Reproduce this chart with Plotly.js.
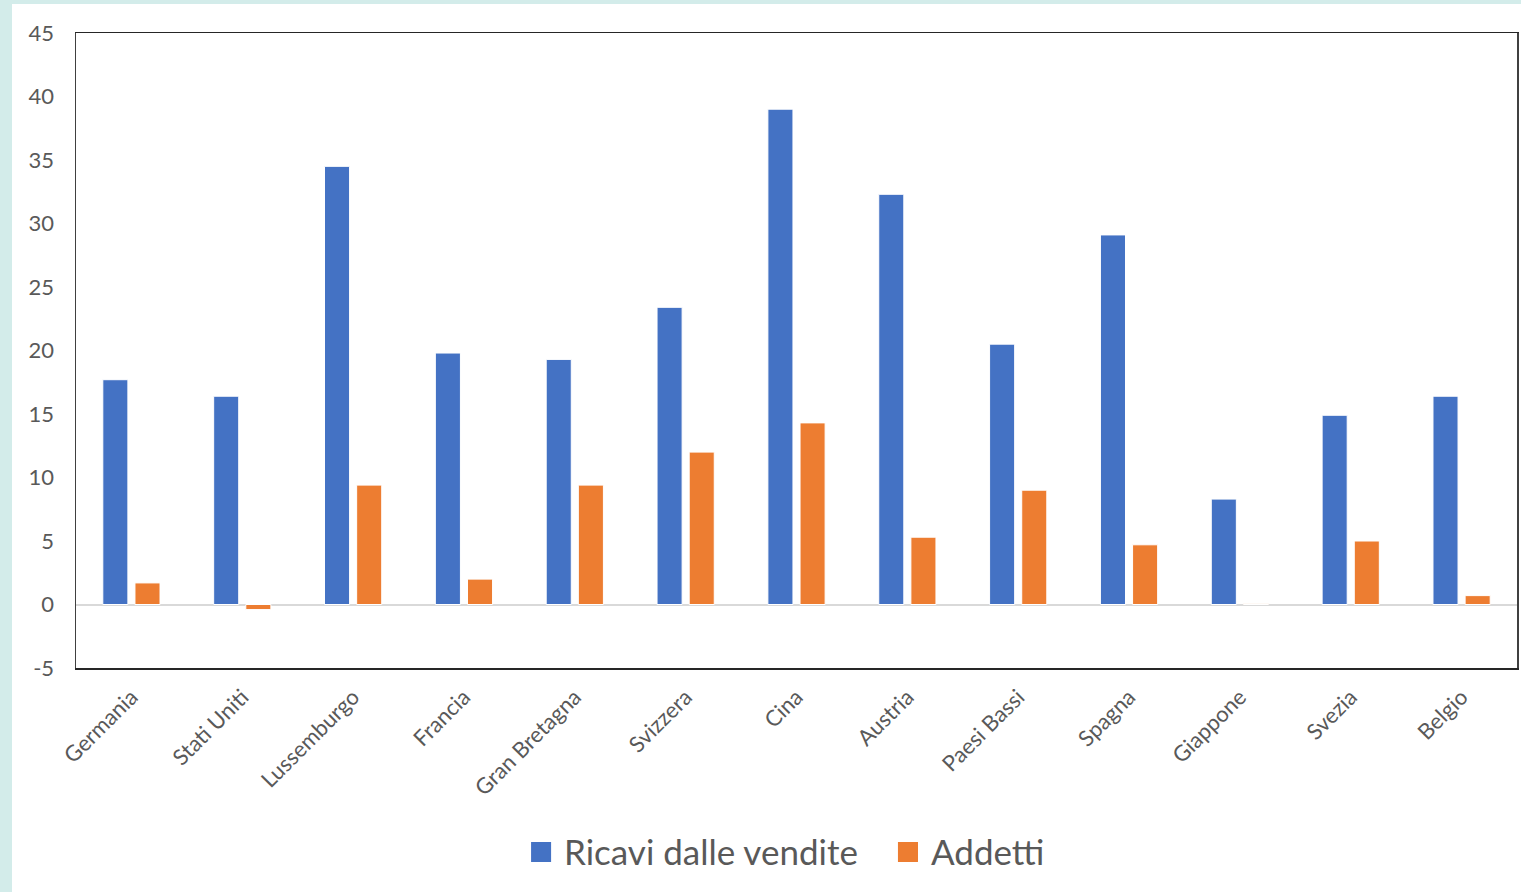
<!DOCTYPE html>
<html>
<head>
<meta charset="utf-8">
<script src="https://cdn.plot.ly/plotly-3.0.1.min.js"></script>
<style>
html,body{margin:0;padding:0;background:#d3ecea;width:1521px;height:892px;overflow:hidden;}
#chart{position:absolute;left:12px;top:4px;width:1509px;height:888px;background:#fff;}
</style>
</head>
<body>
<div id="chart"></div>
<script>
const categories = ["Germania","Stati Uniti","Lussemburgo","Francia","Gran Bretagna","Svizzera","Cina","Austria","Paesi Bassi","Spagna","Giappone","Svezia","Belgio"];
const ricavi = [17.7, 16.4, 34.5, 19.8, 19.3, 23.4, 39.0, 32.3, 20.5, 29.1, 8.3, 14.9, 16.4];
const addetti = [1.7, -0.4, 9.4, 2.0, 9.4, 12.0, 14.3, 5.3, 9.0, 4.7, 0.05, 5.0, 0.7];
const seriesNames = ["Ricavi dalle vendite", "Addetti"];
const seriesColors = ["#4472c4", "#ed7d31"];
const yTickVals = [-5, 0, 5, 10, 15, 20, 25, 30, 35, 40, 45];
const yTickText = ["-5", "0", "5", "10", "15", "20", "25", "30", "35", "40", "45"];

const font = "Lato, 'Open Sans', sans-serif";
const traces = [
  {type:"bar", name:seriesNames[0], x:categories, y:ricavi,
   marker:{color:seriesColors[0], line:{color:"#ffffff", width:1}}},
  {type:"bar", name:seriesNames[1], x:categories, y:addetti,
   marker:{color:seriesColors[1], line:{color:"#ffffff", width:1}}}
];

// custom legend (Excel-style large square keys)
const legendKeyX = [0.3158, 0.5704];
const keyW = 0.0139, keyY0 = -0.3055, keyY1 = -0.274, textGap = 0.0215, legendY = -0.288;
const shapes = legendKeyX.map((x, i) => ({
  type:"rect", xref:"paper", yref:"paper", x0:x, x1:x + keyW, y0:keyY0, y1:keyY1,
  fillcolor:seriesColors[i], line:{width:0}
}));
const annotations = legendKeyX.map((x, i) => ({
  xref:"paper", yref:"paper", x:x + textGap, y:legendY, xanchor:"left", yanchor:"middle",
  text:seriesNames[i], showarrow:false, font:{size:35, color:"#595959"}
}));

const layout = {
  width:1509, height:888,
  paper_bgcolor:"#ffffff", plot_bgcolor:"#ffffff",
  margin:{l:64, r:4, t:29, b:224},
  barmode:"group", bargap:0.42, bargroupgap:0.22,
  font:{family:font, color:"#595959", size:22},
  showlegend:false,
  shapes:shapes, annotations:annotations,
  xaxis:{tickangle:-45, showline:true, linecolor:"#262626", linewidth:1.5, mirror:true,
         ticks:"", showgrid:false, tickfont:{size:22, color:"#595959"}, ticklabelstandoff:6},
  yaxis:{range:[-5,45], tickvals:yTickVals, ticktext:yTickText, showline:true, linecolor:"#404040", linewidth:1.5, mirror:true,
         ticks:"", showgrid:false, zeroline:true, zerolinecolor:"#d9d9d9", zerolinewidth:2,
         tickfont:{size:22, color:"#595959"}, ticklabelstandoff:16}
};
Plotly.newPlot("chart", traces, layout, {displayModeBar:false, staticPlot:true});
</script>
</body>
</html>
